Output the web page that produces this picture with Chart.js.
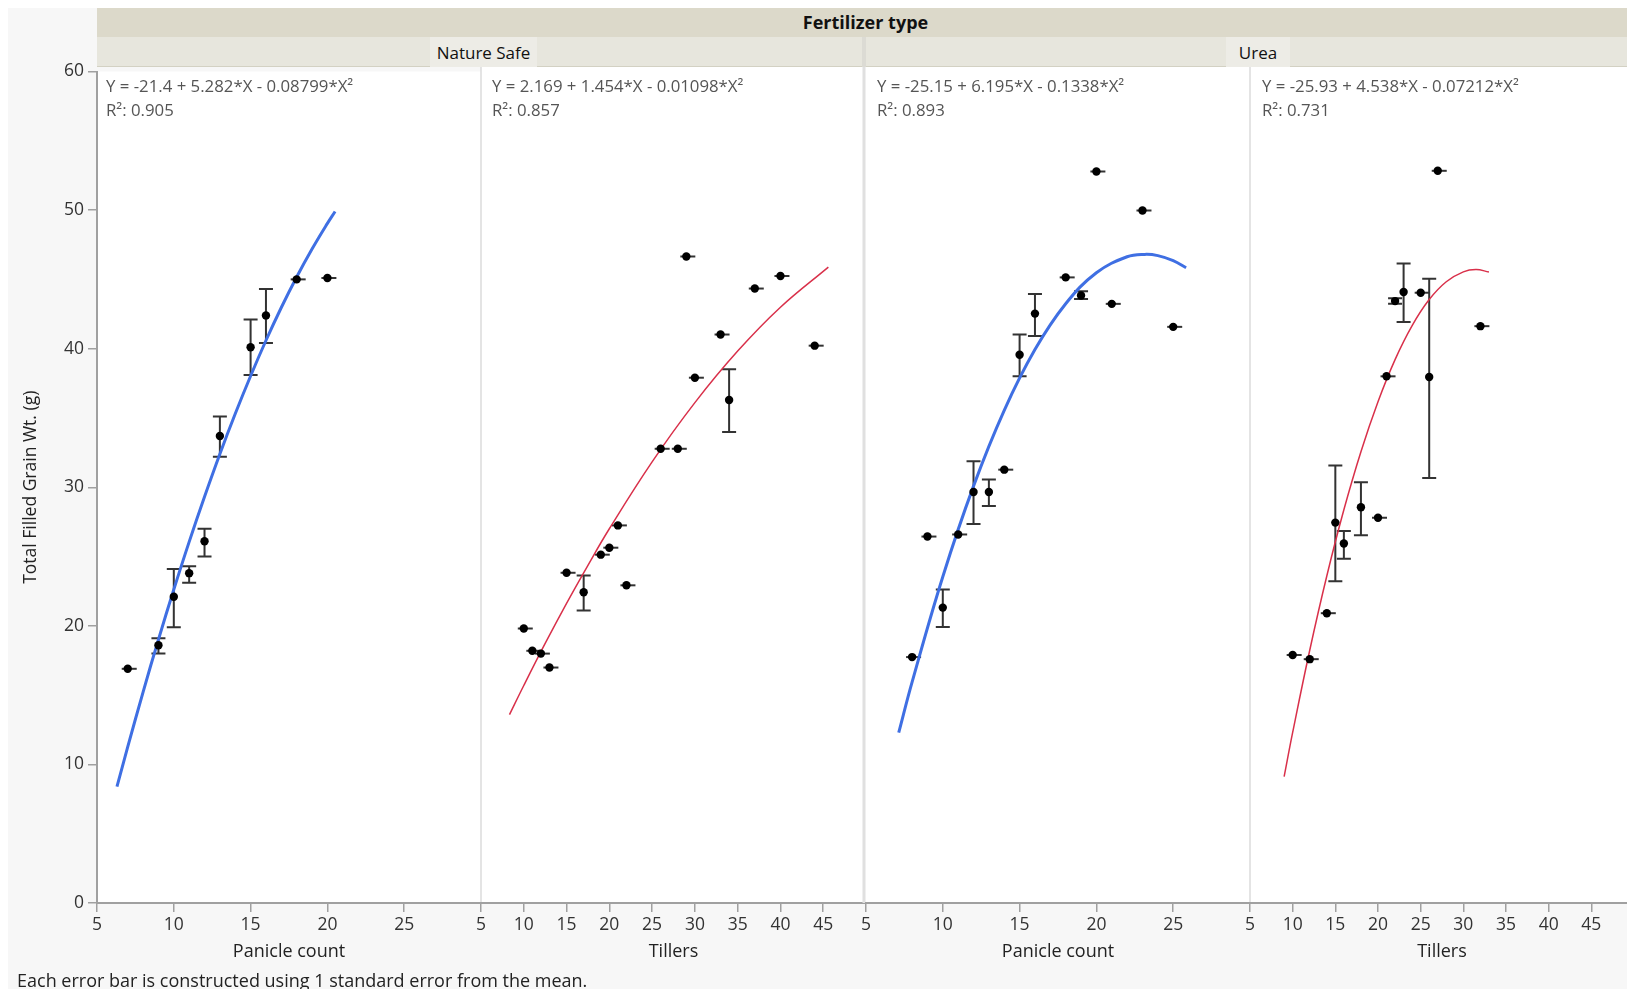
<!DOCTYPE html>
<html><head><meta charset="utf-8">
<script src="https://cdn.jsdelivr.net/npm/chart.js@4.4.1/dist/chart.umd.min.js"></script>
<style>
html,body{margin:0;padding:0;width:1627px;height:989px;overflow:hidden;background:#fff;position:relative;}
#bg{position:absolute;left:8px;top:8px;width:1640px;height:1000px;background:#f7f7f7;}
canvas{position:absolute;}
.t{position:absolute;white-space:nowrap;font-family:'Open Sans','Noto Sans',sans-serif;}
.band1{position:absolute;left:97px;top:8px;width:1540px;height:29px;background:#dcd9ca;}
.band2{position:absolute;left:97px;top:37px;width:1540px;height:29px;background:#e7e6dd;border-bottom:1px solid #d3d1c3;}
.eq{font-size:16.8px;color:#555;line-height:24px;}
</style></head>
<body>
<div id="bg"></div>
<div class="band1"></div>
<div class="band2"></div>
<script>
// ---------- data ----------
const groupTitle = 'Fertilizer type';
const groupLabels = ['Nature Safe', 'Urea'];
const xTitles = ['Panicle count', 'Tillers', 'Panicle count', 'Tillers'];
const yTitle = 'Total Filled Grain Wt. (g)';
const footnote = 'Each error bar is constructed using 1 standard error from the mean.';
const equations = ['Y = -21.4 + 5.282*X - 0.08799*X²', 'Y = 2.169 + 1.454*X - 0.01098*X²', 'Y = -25.15 + 6.195*X - 0.1338*X²', 'Y = -25.93 + 4.538*X - 0.07212*X²'];
const rSquared = ['R²: 0.905', 'R²: 0.857', 'R²: 0.893', 'R²: 0.731'];
const yTicks = [0, 10, 20, 30, 40, 50, 60];
const panicleTicks = [5, 10, 15, 20, 25];
const tillerTicks = [5, 10, 15, 20, 25, 30, 35, 40, 45];

// Nature Safe - Panicle count
const nsPanX  = [7, 9, 10, 11, 12, 13, 15, 16, 18, 20];
const nsPanY  = [16.9, 18.6, 22.1, 23.8, 26.1, 33.7, 40.1, 42.4, 45.0, 45.1];
const nsPanLo = [16.9, 18.0, 19.9, 23.1, 25.0, 32.2, 38.1, 40.4, 45.0, 45.1];
const nsPanHi = [16.9, 19.1, 24.1, 24.3, 27.0, 35.1, 42.1, 44.3, 45.0, 45.1];
const nsPanFitX = [6.3, 7, 8, 9, 10, 11, 12, 13, 14, 15, 16, 17, 18, 19, 20, 20.5];
const nsPanFitY = [8.39, 11.26, 15.22, 19.01, 22.62, 26.06, 29.31, 32.40, 35.30, 38.03, 40.59, 42.97, 45.17, 47.19, 49.04, 49.90];

// Nature Safe - Tillers
const nsTilX  = [10, 11, 12, 13, 15, 17, 19, 20, 21, 22, 26, 28, 29, 30, 33, 34, 37, 40, 44];
const nsTilY  = [19.7, 18.1, 17.9, 16.9, 23.7, 22.3, 25.0, 25.5, 27.1, 22.8, 32.6, 32.6, 46.4, 37.7, 40.8, 36.1, 44.1, 45.0, 40.0];
const nsTilLo = [19.7, 18.1, 17.9, 16.9, 23.7, 21.0, 25.0, 25.5, 27.1, 22.8, 32.6, 32.6, 46.4, 37.7, 40.8, 33.8, 44.1, 45.0, 40.0];
const nsTilHi = [19.7, 18.1, 17.9, 16.9, 23.7, 23.5, 25.0, 25.5, 27.1, 22.8, 32.6, 32.6, 46.4, 37.7, 40.8, 38.3, 44.1, 45.0, 40.0];
const nsTilFitX = [8.33, 10, 12.5, 15, 17.5, 20, 25, 30, 35, 40, 45.6];
const nsTilFitY = [13.52, 15.61, 18.63, 21.51, 24.24, 26.86, 31.66, 35.91, 39.61, 42.76, 45.64];

// Urea - Panicle count
const urPanX  = [8, 9, 10, 11, 12, 13, 14, 15, 16, 18, 19, 20, 21, 23, 25];
const urPanY  = [17.65, 26.3, 21.2, 26.45, 29.5, 29.5, 31.1, 39.35, 42.3, 44.9, 43.6, 52.5, 43.0, 49.7, 41.35];
const urPanLo = [17.65, 26.3, 19.8, 26.45, 27.2, 28.5, 31.1, 37.8, 40.7, 44.9, 43.35, 52.5, 43.0, 49.7, 41.35];
const urPanHi = [17.65, 26.3, 22.5, 26.45, 31.7, 30.4, 31.1, 40.8, 43.7, 44.9, 43.9, 52.5, 43.0, 49.7, 41.35];
const urPanFitX = [7.13, 8, 10, 12, 14, 16, 18, 20, 22, 23.15, 24, 25, 25.84];
const urPanFitY = [12.22, 15.85, 23.42, 29.92, 35.36, 39.72, 43.01, 45.23, 46.38, 46.55, 46.46, 46.10, 45.59];

// Urea - Tillers
const urTilX  = [10, 12, 14, 15, 16, 18, 20, 21, 22, 23, 25, 26, 27, 32];
const urTilY  = [17.8, 17.5, 20.8, 27.3, 25.8, 28.4, 27.65, 37.8, 43.2, 43.85, 43.8, 37.75, 52.55, 41.4];
const urTilLo = [17.8, 17.5, 20.8, 23.1, 24.7, 26.4, 27.65, 37.8, 43.0, 41.7, 43.8, 30.5, 52.55, 41.4];
const urTilHi = [17.8, 17.5, 20.8, 31.4, 26.7, 30.2, 27.65, 37.8, 43.4, 45.9, 43.8, 44.8, 52.55, 41.4];
const urTilFitX = [9, 10, 12, 14, 16, 18, 20, 22, 24, 26, 28, 30, 31.5, 33];
const urTilFitY = [9.07, 12.24, 18.14, 23.47, 28.22, 32.39, 35.98, 39.0, 41.44, 43.31, 44.59, 45.30, 45.46, 45.29];

// ---------- layout ----------
const FONT = "'Open Sans','Noto Sans',sans-serif";
const PANEL_LEFT = [97, 481, 866, 1250];
const PANEL_RIGHT = [481, 866, 1250, 1634];
const CANVAS_TOP = 57, CANVAS_BOTTOM = 989, PAD = 20;
const BLUE = '#3f6fe3', RED = '#d9304a';

const panels = [
  {x: nsPanX, y: nsPanY, lo: nsPanLo, hi: nsPanHi, fx: nsPanFitX, fy: nsPanFitY, xmax: 30, ticks: panicleTicks, color: BLUE, lw: 3},
  {x: nsTilX, y: nsTilY, lo: nsTilLo, hi: nsTilHi, fx: nsTilFitX, fy: nsTilFitY, xmax: 50, ticks: tillerTicks, color: RED, lw: 1.5},
  {x: urPanX, y: urPanY, lo: urPanLo, hi: urPanHi, fx: urPanFitX, fy: urPanFitY, xmax: 30, ticks: panicleTicks, color: BLUE, lw: 3},
  {x: urTilX, y: urTilY, lo: urTilLo, hi: urTilHi, fx: urTilFitX, fy: urTilFitY, xmax: 50, ticks: tillerTicks, color: RED, lw: 1.5}
];

function addText(txt, css, cls) {
  const d = document.createElement('div');
  d.className = 't ' + (cls || '');
  d.textContent = txt;
  Object.assign(d.style, css);
  document.body.appendChild(d);
  return d;
}

// headers
addText(groupTitle, {left: '97px', width: '1537px', top: '8px', height: '29px', lineHeight: '29px', textAlign: 'center', fontWeight: 'bold', fontSize: '18px', color: '#111'});
addText('', {left: '862px', top: '37px', width: '4px', height: '30px', background: '#dcdbd4'});
addText(groupLabels[0], {left: '430px', width: '107px', top: '37px', height: '30px', lineHeight: '31px', textAlign: 'center', fontSize: '17px', color: '#111', background: '#edece6'});
addText(groupLabels[1], {left: '1226px', width: '64px', top: '37px', height: '30px', lineHeight: '31px', textAlign: 'center', fontSize: '17px', color: '#111', background: '#edece6'});

const bgPlugin = (i) => ({
  id: 'bg' + i,
  beforeDraw(chart) {
    const {ctx, chartArea: a} = chart;
    ctx.save();
    ctx.fillStyle = '#fff';
    ctx.fillRect(a.left, a.top, a.right - a.left, a.bottom - a.top);
    if (i > 0) {
      ctx.fillStyle = i === 2 ? '#e0e0e0' : '#dcdcdc';
      const w = i === 2 ? 3 : 1.5;
      ctx.fillRect(a.left - w / 2 - (i === 2 ? 2 : 0), a.top, w, a.bottom - a.top);
    }
    ctx.restore();
  }
});

const errPlugin = (P) => ({
  id: 'err',
  beforeDatasetsDraw(chart) {
    const {ctx, scales: {x, y}} = chart;
    ctx.save();
    ctx.strokeStyle = '#333';
    ctx.lineWidth = 2;
    const cw = 7;
    P.x.forEach((xv, k) => {
      const px = x.getPixelForValue(xv);
      const pl = y.getPixelForValue(P.lo[k]);
      const ph = y.getPixelForValue(P.hi[k]);
      ctx.beginPath();
      if (Math.abs(pl - ph) > 0.5) {
        ctx.moveTo(px, pl); ctx.lineTo(px, ph);
        ctx.moveTo(px - cw, pl); ctx.lineTo(px + cw, pl);
        ctx.moveTo(px - cw, ph); ctx.lineTo(px + cw, ph);
      } else {
        ctx.moveTo(px - cw + 1, pl); ctx.lineTo(px + cw + 2, pl);
      }
      ctx.stroke();
    });
    ctx.restore();
  }
});

function makeChart(i) {
  const P = panels[i];
  const first = i === 0;
  const left = first ? 0 : PANEL_LEFT[i] - PAD;
  const width = first ? PANEL_RIGHT[0] + PAD : (PANEL_RIGHT[i] - PANEL_LEFT[i]) + 2 * PAD;
  const height = CANVAS_BOTTOM - CANVAS_TOP;
  const c = document.createElement('canvas');
  c.width = width; c.height = height;
  Object.assign(c.style, {left: left + 'px', top: CANVAS_TOP + 'px', width: width + 'px', height: height + 'px'});
  document.body.appendChild(c);
  new Chart(c, {
    type: 'scatter',
    data: {datasets: [
      {type: 'scatter', data: P.x.map((v, k) => ({x: v, y: P.y[k]})), pointRadius: 4.2, pointBackgroundColor: '#000', pointBorderWidth: 0, order: 0},
      {type: 'line', data: P.fx.map((v, k) => ({x: v, y: P.fy[k]})), borderColor: P.color, borderWidth: P.lw, pointRadius: 0, tension: 0.4, fill: false, order: 1}
    ]},
    options: {
      responsive: false, animation: false, events: [],
      layout: {padding: {top: 10, bottom: 0, left: first ? 0 : PAD, right: PAD}},
      plugins: {legend: {display: false}, tooltip: {enabled: false}},
      scales: {
        x: {
          type: 'linear', min: 5, max: P.xmax,
          afterBuildTicks: s => { s.ticks = P.ticks.map(v => ({value: v})); },
          afterFit: s => { s.height = 86; },
          ticks: {autoSkip: false, maxRotation: 0, padding: 3, color: '#333', font: {family: FONT, size: 17.5}},
          grid: {drawOnChartArea: false, tickLength: 9, color: '#a0a0a0', lineWidth: 1.5},
          border: {display: true, color: '#a0a0a0', width: 2},
          title: {display: true, text: xTitles[i], color: '#222', font: {family: FONT, size: 18}, padding: {top: 0, bottom: 26}}
        },
        y: {
          type: 'linear', min: 0, max: 60, display: first,
          afterBuildTicks: s => { s.ticks = yTicks.map(v => ({value: v})); },
          afterFit: s => { s.width = first ? 97 : 0; },
          ticks: {padding: 4, color: '#333', font: {family: FONT, size: 17.5}},
          grid: {drawOnChartArea: false, tickLength: 9, color: '#a0a0a0', lineWidth: 1.5},
          border: {display: true, color: '#a0a0a0', width: 2},
          title: {display: true, text: yTitle, color: '#222', font: {family: FONT, size: 17.5}, padding: {top: 21, bottom: 0}}
        }
      }
    },
    plugins: [bgPlugin(i), errPlugin(P)]
  });
}

for (let i = 0; i < 4; i++) makeChart(i);

// equations
const eqLeft = [106, 492, 877, 1262];
for (let i = 0; i < 4; i++) {
  const d = addText('', {left: eqLeft[i] + 'px', top: '74px'}, 'eq');
  const l1 = document.createElement('div'); l1.textContent = equations[i];
  const l2 = document.createElement('div'); l2.textContent = rSquared[i];
  d.appendChild(l1); d.appendChild(l2);
}
addText(footnote, {left: '17px', top: '968px', fontSize: '18px', color: '#222', lineHeight: '24px'});
</script>
</body></html>
